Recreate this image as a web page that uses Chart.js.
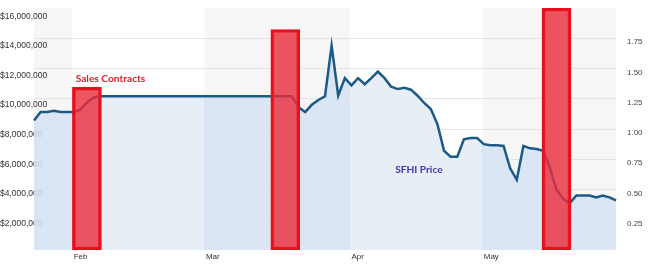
<!DOCTYPE html>
<html><head><meta charset="utf-8">
<script src="https://cdn.jsdelivr.net/npm/chart.js@4.4.0/dist/chart.umd.min.js"></script>
<style>html,body{margin:0;padding:0;background:#fff;overflow:hidden}#wrap{width:650px;height:264px;position:relative}</style>
</head><body><div id="wrap"><canvas id="c" width="650" height="264"></canvas></div>
<script>
// Trading days shown on the (ordinal) x axis
const tradingDays = [
 '2012-01-24','2012-01-25','2012-01-26','2012-01-27','2012-01-30','2012-01-31',
 '2012-02-01','2012-02-02','2012-02-03','2012-02-06','2012-02-07','2012-02-08','2012-02-09','2012-02-10',
 '2012-02-13','2012-02-14','2012-02-15','2012-02-16','2012-02-17','2012-02-21','2012-02-22','2012-02-23',
 '2012-02-24','2012-02-27','2012-02-28','2012-02-29',
 '2012-03-01','2012-03-02','2012-03-05','2012-03-06','2012-03-07','2012-03-08','2012-03-09','2012-03-12',
 '2012-03-13','2012-03-14','2012-03-15','2012-03-16','2012-03-19','2012-03-20','2012-03-21','2012-03-22',
 '2012-03-23','2012-03-26','2012-03-27','2012-03-28','2012-03-29','2012-03-30',
 '2012-04-02','2012-04-03','2012-04-04','2012-04-05','2012-04-09','2012-04-10','2012-04-11','2012-04-12',
 '2012-04-13','2012-04-16','2012-04-17','2012-04-18','2012-04-19','2012-04-20','2012-04-23','2012-04-24',
 '2012-04-25','2012-04-26','2012-04-27','2012-04-30',
 '2012-05-01','2012-05-02','2012-05-03','2012-05-04','2012-05-07','2012-05-08','2012-05-09','2012-05-10',
 '2012-05-11','2012-05-14','2012-05-15','2012-05-16','2012-05-17','2012-05-18','2012-05-21','2012-05-22',
 '2012-05-23','2012-05-24','2012-05-25','2012-05-29','2012-05-30'
];
// SFHI share price (right axis)
const sfhiPrice = [
 1.07,1.14,1.14,1.15,1.14,1.14,
 1.14,1.16,1.22,1.26,1.27,1.27,1.27,1.27,
 1.27,1.27,1.27,1.27,1.27,1.27,1.27,1.27,
 1.27,1.27,1.27,1.27,
 1.27,1.27,1.27,1.27,1.27,1.27,1.27,1.27,
 1.27,1.27,1.27,1.27,1.27,1.27,1.18,1.14,
 1.20,1.24,1.27,1.69,1.275,1.42,
 1.36,1.42,1.37,1.42,1.475,1.42,1.35,1.33,
 1.34,1.325,1.275,1.215,1.165,1.04,0.82,0.77,
 0.77,0.915,0.925,0.925,
 0.875,0.865,0.865,0.86,0.675,0.58,0.86,0.84,
 0.835,0.82,0.68,0.50,0.425,0.385,0.45,0.45,
 0.45,0.435,0.45,0.435,0.41
];
// Sales contracts (left axis)
const contractDates = ['2012-02-03','2012-03-19','2012-05-16'];
const contractValues = [11000000, 14900000, 16350000];
// Axis tick labels
const monthTickDates = ['2012-02-01','2012-03-01','2012-04-02','2012-05-01'];
const monthTickLabels = ['Feb','Mar','Apr','May'];
const leftTicks = [2000000,4000000,6000000,8000000,10000000,12000000,14000000,16000000];
const rightTicks = [0.25,0.5,0.75,1.0,1.25,1.5,1.75];

const FONT = "'Liberation Sans', Arial, sans-serif";

function bandEdges(chart) {
  const a = chart.chartArea, x = chart.scales.x;
  const edges = [a.left];
  monthTickDates.forEach(d => edges.push(x.getPixelForValue(tradingDays.indexOf(d)) - 1.5));
  edges.push(a.right);
  return edges;
}

const bandPlugin = {
  id: 'bands',
  beforeDraw(chart) {
    const {ctx, chartArea: a} = chart;
    const edges = bandEdges(chart);
    ctx.save();
    ctx.fillStyle = '#ffffff';
    ctx.fillRect(0, 0, chart.width, chart.height);
    ctx.fillStyle = '#f6f6f6';
    for (let i = 0; i < edges.length - 1; i += 2) {
      ctx.fillRect(edges[i], a.top, edges[i + 1] - edges[i], a.bottom - a.top);
    }
    ctx.restore();
  }
};

function areaFill(context) {
  const chart = context.chart;
  const a = chart.chartArea;
  if (!a || !chart.scales.x) return 'rgba(228,235,244,0.85)';
  const edges = bandEdges(chart);
  const g = chart.ctx.createLinearGradient(a.left, 0, a.right, 0);
  const w = a.right - a.left;
  const dark = 'rgba(214,227,244,0.85)', light = 'rgba(228,235,244,0.85)';
  for (let i = 0; i < edges.length - 1; i++) {
    const c = i % 2 === 0 ? dark : light;
    const f0 = Math.min(1, Math.max(0, (edges[i] - a.left) / w));
    const f1 = Math.min(1, Math.max(0, (edges[i + 1] - a.left) / w));
    g.addColorStop(f0, c);
    g.addColorStop(f1, c);
  }
  return g;
}

const notes = [
  {text: 'Sales Contracts', date: '2012-02-01', axis: 'yL', value: 11600000, color: '#d9202c', dx: 2},
  {text: 'SFHI Price', date: '2012-04-11', axis: 'yR', value: 0.667, color: '#3a3ab0', dx: 4}
];
const notePlugin = {
  id: 'notes',
  afterDraw(chart) {
    const {ctx, scales} = chart;
    ctx.save();
    ctx.font = "bold 10.2px Lato, 'Liberation Sans', sans-serif";
    ctx.textBaseline = 'middle';
    ctx.textAlign = 'left';
    notes.forEach(n => {
      ctx.fillStyle = n.color;
      const px = scales.x.getPixelForValue(tradingDays.indexOf(n.date)) + n.dx;
      const py = scales[n.axis].getPixelForValue(n.value);
      ctx.fillText(n.text, px, py);
    });
    ctx.restore();
  }
};

const fmt = v => '$' + String(Math.round(v)).replace(/\B(?=(\d{3})+(?!\d))/g, ',');

new Chart(document.getElementById('c'), {
  data: {
    labels: tradingDays,
    datasets: [
      {
        type: 'bar', label: 'Sales Contracts', yAxisID: 'yL', order: 0,
        data: contractDates.map((d, i) => ({x: d, y: contractValues[i]})),
        backgroundColor: 'rgba(234,44,59,0.8)', borderColor: '#e5101d',
        borderWidth: 3, borderSkipped: false, barThickness: 29
      },
      {
        type: 'line', label: 'SFHI Price', yAxisID: 'yR', order: 1,
        data: sfhiPrice, borderColor: '#1b5a86', borderWidth: 2.5,
        pointRadius: 0, tension: 0, fill: 'origin',
        backgroundColor: areaFill
      }
    ]
  },
  options: {
    responsive: false, animation: false, devicePixelRatio: 1,
    layout: {padding: {top: 8, left: 0, right: 0, bottom: 0}},
    plugins: {legend: {display: false}, tooltip: {enabled: false}},
    scales: {
      x: {
        type: 'category', offset: false,
        grid: {display: false, drawTicks: false}, border: {display: false},
        ticks: {
          autoSkip: false, maxRotation: 0, minRotation: 0, align: 'start', padding: 2,
          color: '#333', font: {family: FONT, size: 8},
          callback: (v, i) => { const k = monthTickDates.indexOf(tradingDays[i]); return k >= 0 ? monthTickLabels[k] : ''; }
        },
        afterFit: s => { s.height = 14; s.paddingLeft = 0; s.paddingRight = 0; }
      },
      yL: {
        position: 'left', min: 0, max: 16350000, z: 1,
        grid: {display: false, drawTicks: false}, border: {display: false},
        afterBuildTicks: s => { s.ticks = leftTicks.map(v => ({value: v})); },
        ticks: {
          mirror: true, crossAlign: 'near', padding: -34, labelOffset: 3,
          color: '#333', font: {family: FONT, size: 8.5},
          callback: v => fmt(v)
        },
        afterFit: s => { s.width = 34; s.paddingTop = 0; s.paddingBottom = 0; }
      },
      yR: {
        position: 'right', min: 0, max: 2,
        afterBuildTicks: s => { s.ticks = rightTicks.map(v => ({value: v})); },
        grid: {drawTicks: false, lineWidth: 1, color: '#e4e4e4'},
        border: {display: false},
        ticks: {
          padding: 11, labelOffset: 4,
          color: '#444', font: {family: FONT, size: 8},
          callback: v => Number(v).toFixed(2)
        },
        afterFit: s => { s.width = 34; s.paddingTop = 0; s.paddingBottom = 0; }
      }
    }
  },
  plugins: [bandPlugin, notePlugin]
});
</script>
</body></html>
